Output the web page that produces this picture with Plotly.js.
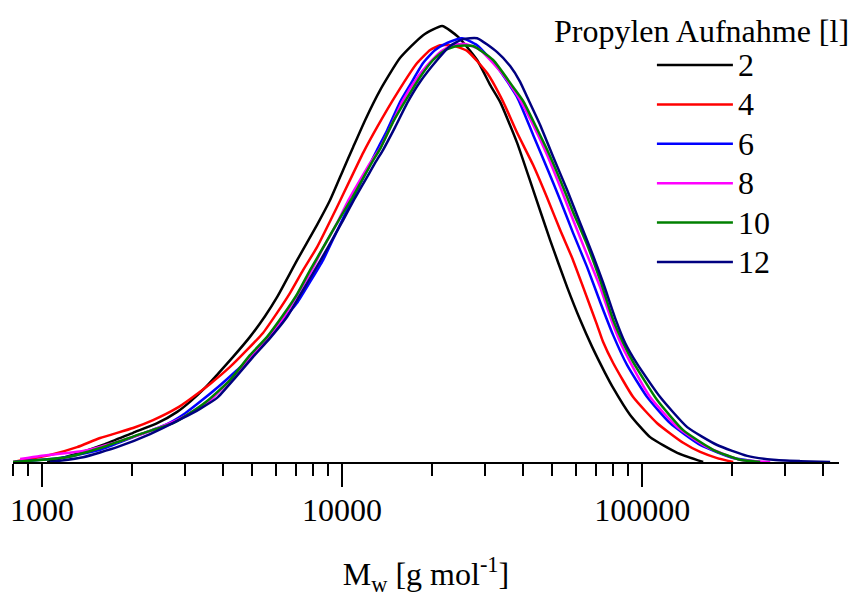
<!DOCTYPE html>
<html>
<head>
<meta charset="utf-8">
<script src="https://cdn.plot.ly/plotly-3.0.1.min.js"></script>
<style>html,body{margin:0;padding:0;background:#fff;}#chart{width:851px;height:597px;}</style>
</head>
<body>
<div id="chart"></div>
<script>
// Molar mass (g/mol) and normalised GPC signal
const seriesNames = ['2', '4', '6', '8', '10', '12'];
const seriesColors = ['#000000', '#ff0000', '#0000ff', '#ff00ff', '#008000', '#000080'];

const m2 = [1040,1290,1620,2010,2420,2820,3110,3490,3830,4330,4930,5540,6070,7080,8250,9120,10080,10880,11930,13390,15610,18620,21540,24360,28180,31140,33620,38310,43320,49350,56230,62130,68130,75280,80050,91200,106300,130900,159700];
const w2 = [0,0.018,0.041,0.067,0.089,0.115,0.138,0.170,0.200,0.241,0.287,0.335,0.378,0.463,0.544,0.601,0.670,0.722,0.784,0.853,0.927,0.979,1.0,0.975,0.922,0.865,0.826,0.732,0.624,0.509,0.401,0.326,0.264,0.204,0.170,0.108,0.057,0.021,0];

const m4 = [800,1063,1308,1561,2010,2344,2820,3110,3630,4230,4820,5450,6070,6710,7410,8250,9620,10630,11750,13080,15260,17780,19650,21210,23260,26100,30430,34420,38310,43320,48230,53300,58450,63580,70790,74130,80050,93330,112200,137000,156100,177800,201100];
const w4 = [0,0.016,0.034,0.055,0.078,0.096,0.124,0.144,0.179,0.218,0.257,0.296,0.342,0.388,0.440,0.493,0.585,0.647,0.709,0.768,0.846,0.915,0.945,0.956,0.956,0.943,0.892,0.826,0.755,0.681,0.606,0.532,0.468,0.401,0.314,0.275,0.227,0.149,0.089,0.044,0.023,0.009,0];

const m6 = [800,1148,1561,2010,2610,3000,3360,3860,4470,5050,5750,6360,7080,7820,8640,9480,10390,11220,12120,13080,14130,15610,16850,18620,20420,22390,25120,28180,32860,38310,43320,48230,53300,58880,65560,72440,80050,89130,103900,123900,156100,201100,247400];
const w6 = [0,0.009,0.028,0.057,0.087,0.112,0.138,0.172,0.211,0.245,0.291,0.326,0.365,0.413,0.463,0.521,0.578,0.624,0.670,0.716,0.761,0.826,0.865,0.915,0.945,0.961,0.972,0.956,0.906,0.837,0.750,0.674,0.601,0.525,0.447,0.367,0.291,0.222,0.149,0.089,0.039,0.009,0];

const m8 = [845,985,1370,1778,2291,2951,3630,4230,4930,5623,6360,7080,7820,8640,9620,10470,11480,12400,13390,14450,15970,17780,19650,21210,23260,25700,28840,34420,39200,43320,48230,53300,58880,65560,72440,79430,84470,91200,106300,130900,164800,212200,267200];
const w8 = [0.007,0.014,0.025,0.046,0.071,0.103,0.142,0.188,0.239,0.284,0.330,0.383,0.433,0.491,0.548,0.599,0.647,0.686,0.720,0.766,0.830,0.881,0.917,0.940,0.956,0.959,0.945,0.888,0.830,0.773,0.704,0.631,0.555,0.475,0.401,0.321,0.275,0.229,0.149,0.080,0.034,0.005,0];

const m10 = [800,1211,1561,2122,2733,3110,3548,4230,4930,5623,6360,7080,7820,8780,9850,10800,11750,12590,13390,14790,16470,18200,20110,22050,24170,27330,31860,37150,40110,43990,48230,53300,58880,65560,72440,80050,86470,93330,112200,137000,172500,212200,247400];
const w10 = [0,0.011,0.032,0.064,0.089,0.112,0.140,0.188,0.245,0.287,0.337,0.385,0.440,0.500,0.560,0.606,0.651,0.688,0.718,0.780,0.835,0.883,0.922,0.945,0.954,0.954,0.922,0.860,0.828,0.773,0.716,0.647,0.573,0.498,0.417,0.326,0.273,0.229,0.142,0.073,0.028,0.005,0];

const m12 = [1063,1370,1778,2291,2951,3360,3830,4400,5050,5750,6560,7240,8000,8980,10080,11050,12120,12880,13700,15020,16470,18200,20740,22910,25310,28180,32860,36310,39200,41380,45710,50500,56230,62130,68130,74130,81280,87780,96230,114800,141300,177800,223900,273400,336200,423200];
const w12 = [0,0.011,0.034,0.064,0.101,0.122,0.147,0.193,0.241,0.284,0.333,0.383,0.433,0.493,0.555,0.606,0.654,0.686,0.716,0.768,0.823,0.872,0.922,0.954,0.970,0.972,0.940,0.908,0.872,0.837,0.773,0.700,0.624,0.548,0.479,0.411,0.330,0.273,0.225,0.149,0.080,0.039,0.014,0.005,0.002,0];

const xTickVals = [1000, 10000, 100000];
const xTickText = ['1000', '10000', '100000'];

const masses = [m2, m4, m6, m8, m10, m12];
const signals = [w2, w4, w6, w8, w10, w12];

const FONT = 'Liberation Serif, Times New Roman, serif';

const traces = seriesNames.map((name, i) => ({
  x: masses[i],
  y: signals[i],
  name: '<span style="font-size:32px">' + name + '</span>',
  type: 'scatter',
  mode: 'lines',
  line: {color: seriesColors[i], width: 2.5, shape: 'spline', smoothing: 0.5}
}));

const layout = {
  width: 851,
  height: 597,
  margin: {l: 13, r: 12, t: 10, b: 135},
  paper_bgcolor: '#ffffff',
  plot_bgcolor: '#ffffff',
  font: {family: FONT, size: 32, color: '#000000'},
  showlegend: true,
  legend: {
    x: 0.7735, xanchor: 'left',
    y: 0.933, yanchor: 'top',
    bgcolor: 'rgba(0,0,0,0)',
    borderwidth: 0,
    itemwidth: 76,
    font: {family: FONT, size: 28, color: '#000000'}
  },
  annotations: [{
    text: 'Propylen Aufnahme [l]',
    xref: 'paper', yref: 'paper',
    x: 1.015, xanchor: 'right',
    y: 0.953, yanchor: 'middle',
    showarrow: false,
    font: {family: FONT, size: 32, color: '#000000'}
  }],
  xaxis: {
    type: 'log',
    range: [Math.log10(800), Math.log10(453000)],
    showgrid: false,
    zeroline: false,
    showline: true,
    linecolor: '#000000',
    linewidth: 2,
    ticks: 'outside',
    ticklen: 23,
    tickwidth: 2,
    tickcolor: '#000000',
    tickmode: 'array',
    tickvals: xTickVals,
    ticktext: xTickText,
    ticklabelstandoff: -4,
    tickfont: {family: FONT, size: 32, color: '#000000'},
    minor: {dtick: 'D1', ticks: 'outside', ticklen: 12, tickwidth: 2, tickcolor: '#000000', showgrid: false},
    title: {text: 'M<sub>w</sub> [g mol<sup>-1</sup>]', font: {family: FONT, size: 32, color: '#000000'}, standoff: 37}
  },
  yaxis: {
    visible: false,
    range: [0, 1.0367],
    showgrid: false,
    zeroline: false
  }
};

Plotly.newPlot('chart', traces, layout, {displayModeBar: false, staticPlot: true});
</script>
</body>
</html>
